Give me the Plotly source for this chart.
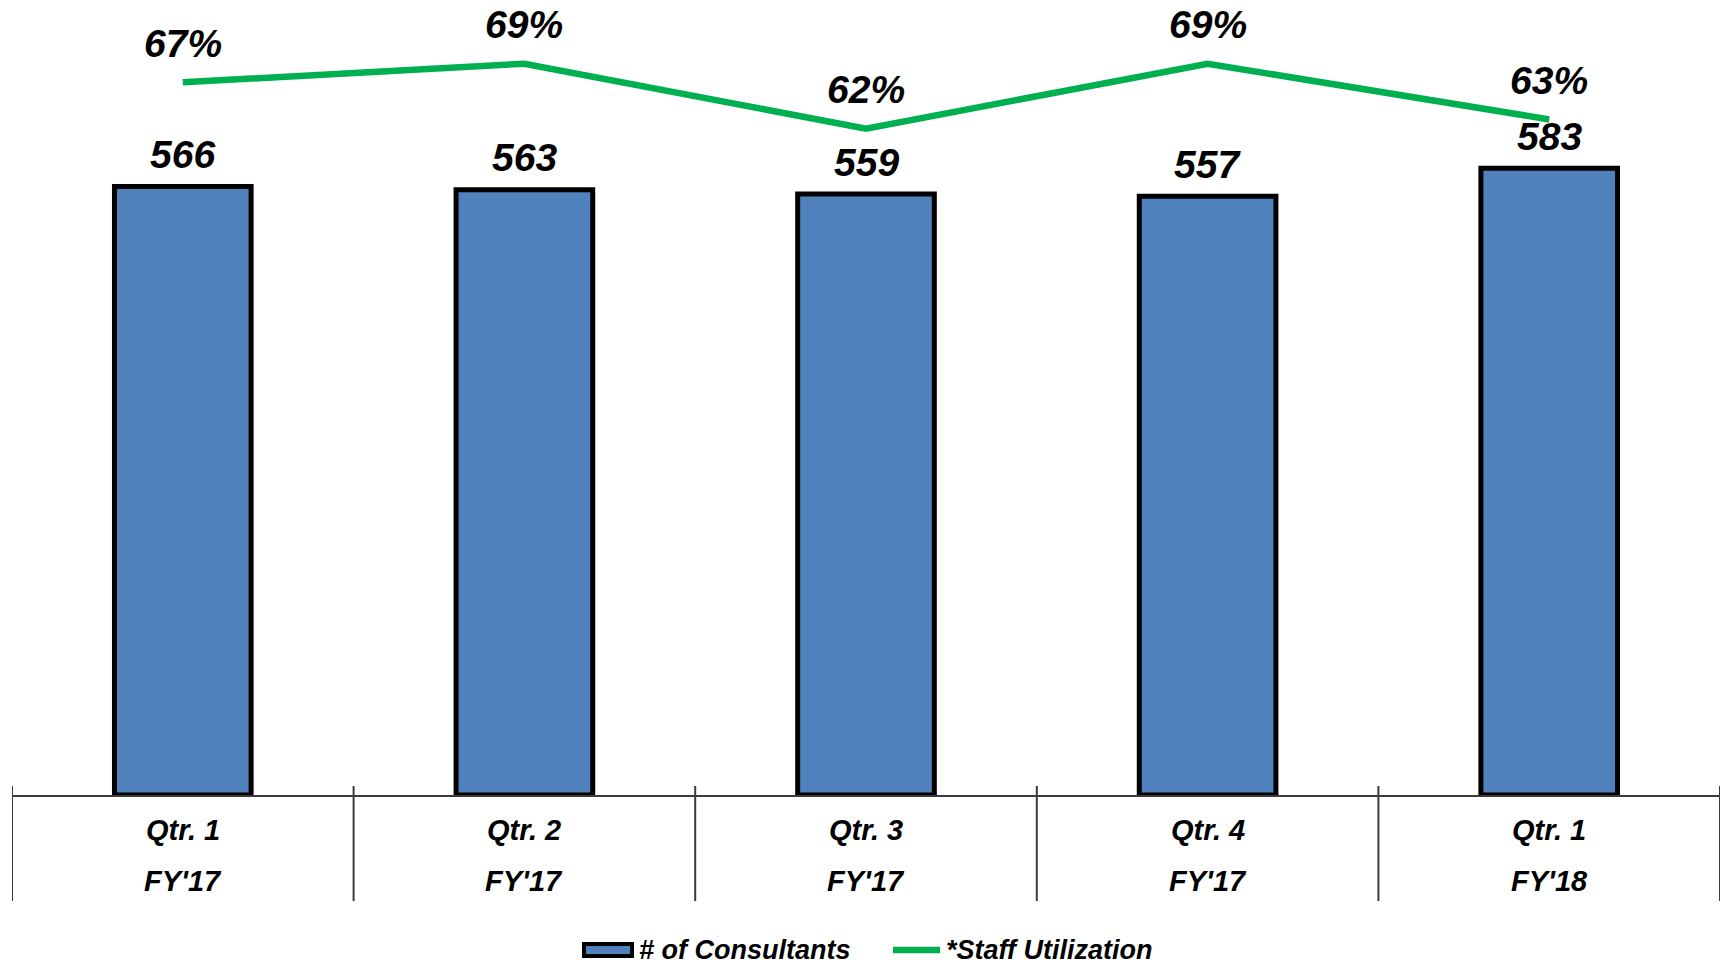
import plotly.graph_objects as go

# ---- data ----
quarters = ["Qtr. 1", "Qtr. 2", "Qtr. 3", "Qtr. 4", "Qtr. 1"]
fiscal_years = ["FY'17", "FY'17", "FY'17", "FY'17", "FY'18"]
consultants = [566, 563, 559, 557, 583]
utilization = [67, 69, 62, 69, 63]  # percent
series_names = ["# of Consultants", "*Staff Utilization"]

categories = [f"{q} {fy}" for q, fy in zip(quarters, fiscal_years)]

BLUE = "#4F81BD"
GREEN = "#00B050"
FONT = "Liberation Sans, Arial, sans-serif"

W, H = 1723, 965
ML, MR, MT, MB = 12, 3, 10, 170

fig = go.Figure()
fig.add_trace(go.Bar(
    x=categories, y=consultants, name=series_names[0],
    marker=dict(color=BLUE, line=dict(color="black", width=5)),
    width=0.4, showlegend=False, hoverinfo="x+y",
))
fig.add_trace(go.Scatter(
    x=categories, y=utilization, name=series_names[1], yaxis="y2",
    mode="lines", line=dict(color=GREEN, width=6.5),
    showlegend=False,
))

annotations = []
label_font = dict(family=FONT, size=39, color="black", weight="bold", style="italic")
for c, v in zip(categories, consultants):
    annotations.append(dict(x=c, y=v, xref="x", yref="y", text=f"{v}",
                            showarrow=False, yanchor="middle", yshift=32,
                            font=label_font))
for c, v in zip(categories, utilization):
    annotations.append(dict(x=c, y=v, xref="x", yref="y2", text=f"{v}%",
                            showarrow=False, yanchor="middle", yshift=39,
                            font=label_font))

cat_font = dict(family=FONT, size=29, color="black", weight="bold", style="italic")
for c, q, fy in zip(categories, quarters, fiscal_years):
    annotations.append(dict(x=c, y=0, xref="x", yref="paper", text=q,
                            showarrow=False, yanchor="middle", yshift=-35,
                            font=cat_font))
    annotations.append(dict(x=c, y=0, xref="x", yref="paper", text=fy,
                            showarrow=False, yanchor="middle", yshift=-86,
                            font=cat_font))

# custom legend
leg_font = dict(family=FONT, size=27, color="black", weight="bold", style="italic")
annotations.append(dict(x=0, y=0, xref="paper", yref="paper", xanchor="left",
                        yanchor="middle", xshift=640 - ML - 3, yshift=-155,
                        text=series_names[0], showarrow=False, font=leg_font))
annotations.append(dict(x=0, y=0, xref="paper", yref="paper", xanchor="left",
                        yanchor="middle", xshift=947 - ML - 3, yshift=-155,
                        text=series_names[1], showarrow=False, font=leg_font))

shapes = []
# category divider lines at boundaries
for i in range(len(categories) + 1):
    shapes.append(dict(type="line", xref="x", yref="paper",
                       x0=i - 0.5, x1=i - 0.5,
                       ysizemode="pixel", yanchor=0, y0=9, y1=-106,
                       line=dict(color="#3a3a3a", width=2)))
# legend swatches
shapes.append(dict(type="rect", xref="paper", yref="paper",
                   xsizemode="pixel", xanchor=0, x0=584 - ML, x1=632 - ML,
                   ysizemode="pixel", yanchor=0, y0=-149, y1=-161,
                   fillcolor=BLUE, line=dict(color="black", width=4)))
shapes.append(dict(type="line", xref="paper", yref="paper",
                   xsizemode="pixel", xanchor=0, x0=893 - ML, x1=940 - ML,
                   ysizemode="pixel", yanchor=0, y0=-155, y1=-155,
                   line=dict(color=GREEN, width=6.5)))

plot_h = H - MT - MB
ppu = 1.075
y1max = plot_h / ppu
# secondary axis mapping: value v -> pixel a - b*v
a, b = 704.7, 9.29
bottom_px = H - MB
y2min = (a - bottom_px) / b
y2max = (a - MT) / b

fig.update_layout(
    width=W, height=H,
    margin=dict(l=ML, r=MR, t=MT, b=MB, pad=0),
    paper_bgcolor="white", plot_bgcolor="white",
    bargap=0.6,
    xaxis=dict(type="category", range=[-0.5, len(categories) - 0.5],
               showticklabels=False, ticks="", showgrid=False, zeroline=False,
               showline=True, linecolor="#3a3a3a", linewidth=2),
    yaxis=dict(range=[0, y1max], visible=False, showgrid=False, zeroline=False),
    yaxis2=dict(range=[y2min, y2max], overlaying="y", side="right",
                visible=False, showgrid=False, zeroline=False),
    annotations=annotations,
    shapes=shapes,
    showlegend=False,
)

fig.write_html("out.html")
